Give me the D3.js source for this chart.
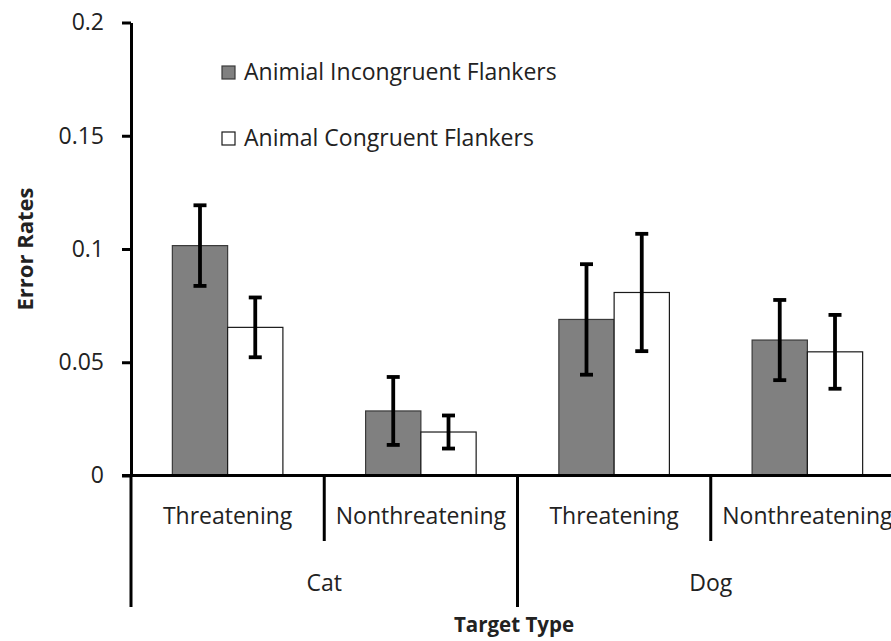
<!DOCTYPE html>
<html>
<head>
<meta charset="utf-8">
<script src="https://cdn.jsdelivr.net/npm/d3@7"></script>
<style>
  html, body { margin: 0; padding: 0; background: #fff; }
  svg { display: block; }
  text { font-family: "Open Sans", sans-serif; fill: #222; }
</style>
</head>
<body>
<svg id="chart" width="891" height="641"></svg>
<script>
// ---- data ----
const groups = ["Cat", "Dog"];
const subcategories = ["Threatening", "Nonthreatening"];
const seriesNames = ["Animial Incongruent Flankers", "Animal Congruent Flankers"];
const incongruentValues = [0.1015, 0.0285, 0.0689, 0.0598];
const incongruentErrors = [0.0178, 0.0150, 0.0244, 0.0177];
const congruentValues = [0.0654, 0.0192, 0.0808, 0.0546];
const congruentErrors = [0.0132, 0.0073, 0.0259, 0.0163];
const yTicks = [0, 0.05, 0.1, 0.15, 0.2];
const yTitle = "Error Rates";
const xTitle = "Target Type";

// ---- build table ----
const cells = [];
groups.forEach(g => subcategories.forEach(s => cells.push({ group: g, sub: s, key: g + "|" + s })));
const seriesValues = [incongruentValues, congruentValues];
const seriesErrors = [incongruentErrors, congruentErrors];
const seriesFill = ["#808080", "#ffffff"];
const seriesStroke = ["#3a3a3a", "#1a1a1a"];
const barData = [];
cells.forEach((c, i) => {
  seriesNames.forEach((s, j) => {
    barData.push({ key: c.key, series: s, value: seriesValues[j][i], err: seriesErrors[j][i], idx: j });
  });
});

// ---- layout ----
const svg = d3.select("#chart");
const x0Left = 131, x0Right = 904;
const yBottom = 475.5, yTop = 22.5;
const minorDrop = 541, majorDrop = 607;

const x = d3.scaleBand().domain(cells.map(c => c.key)).range([x0Left, x0Right]).paddingInner(0).paddingOuter(0);
const groupFrac = 0.572;
const xs = d3.scaleBand().domain(seriesNames)
  .range([x.bandwidth() * (1 - groupFrac) / 2, x.bandwidth() * (1 + groupFrac) / 2]).padding(0);
const y = d3.scaleLinear().domain([0, 0.2]).range([yBottom, yTop]);

// bars
svg.append("g").selectAll("rect").data(barData).join("rect")
  .attr("x", d => x(d.key) + xs(d.series))
  .attr("y", d => y(d.value))
  .attr("width", xs.bandwidth())
  .attr("height", d => y(0) - y(d.value))
  .attr("fill", d => seriesFill[d.idx])
  .attr("stroke", d => seriesStroke[d.idx])
  .attr("stroke-width", 1.2);

// error bars
const eb = svg.append("g").attr("stroke", "#000").attr("stroke-width", 3.8);
barData.forEach(d => {
  const cx = x(d.key) + xs(d.series) + xs.bandwidth() / 2;
  const hi = y(d.value + d.err), lo = y(d.value - d.err);
  eb.append("line").attr("x1", cx).attr("x2", cx).attr("y1", hi).attr("y2", lo);
  eb.append("line").attr("x1", cx - 6.5).attr("x2", cx + 6.5).attr("y1", hi).attr("y2", hi);
  eb.append("line").attr("x1", cx - 6.5).attr("x2", cx + 6.5).attr("y1", lo).attr("y2", lo);
});

// y axis
const yAxis = d3.axisLeft(y).tickValues(yTicks).tickFormat(d3.format("")).tickSize(9).tickSizeOuter(0).tickPadding(18);
const ya = svg.append("g").attr("transform", `translate(${x0Left},0)`).call(yAxis);
ya.select(".domain").attr("stroke", "#000").attr("stroke-width", 3);
ya.selectAll(".tick line").attr("stroke", "#000").attr("stroke-width", 3);
ya.selectAll(".tick text").style("font-family", "'Open Sans', sans-serif").style("font-size", "23px").attr("fill", "#222");

// baseline
svg.append("line").attr("x1", x0Left - 9).attr("x2", x0Right).attr("y1", y(0)).attr("y2", y(0))
  .attr("stroke", "#000").attr("stroke-width", 3);

// separators
const seps = svg.append("g").attr("stroke", "#000").attr("stroke-width", 3);
cells.forEach((c, i) => {
  const xx = x(c.key);
  const major = (i % subcategories.length) === 0;
  seps.append("line").attr("x1", xx).attr("x2", xx).attr("y1", y(0)).attr("y2", major ? majorDrop : minorDrop);
});
seps.append("line").attr("x1", x0Right).attr("x2", x0Right).attr("y1", y(0)).attr("y2", majorDrop);

// subcategory labels
svg.append("g").selectAll("text").data(cells).join("text")
  .attr("x", d => x(d.key) + x.bandwidth() / 2)
  .attr("y", 524)
  .attr("text-anchor", "middle")
  .style("font-size", "23px")
  .text(d => d.sub);

// group labels
svg.append("g").selectAll("text").data(groups).join("text")
  .attr("x", g => x(g + "|" + subcategories[0]) + x.bandwidth() * subcategories.length / 2)
  .attr("y", 591)
  .attr("text-anchor", "middle")
  .style("font-size", "23px")
  .text(g => g);

// axis titles
svg.append("text").attr("x", 514).attr("y", 632).attr("text-anchor", "middle")
  .style("font-size", "20.5px").style("font-weight", "bold").attr("fill", "#111").text(xTitle);
svg.append("text").attr("transform", "translate(33,249) rotate(-90)").attr("text-anchor", "middle")
  .style("font-size", "22px").style("font-weight", "bold").attr("fill", "#111").text(yTitle);

// legend
const legend = svg.append("g");
seriesNames.forEach((s, j) => {
  const ly = 66 + j * 66;
  legend.append("rect").attr("x", 222).attr("y", ly).attr("width", 13).attr("height", 13)
    .attr("fill", seriesFill[j]).attr("stroke", seriesStroke[j]).attr("stroke-width", 1.2);
  legend.append("text").attr("x", 244).attr("y", ly + 13.5).style("font-size", "23px").text(s);
});
</script>
</body>
</html>
